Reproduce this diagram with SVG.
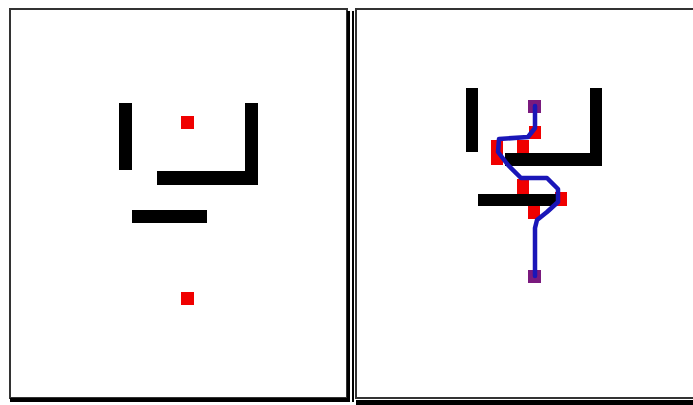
<svg xmlns="http://www.w3.org/2000/svg" width="693" height="405" viewBox="0 0 693 405">
<style>
.frame{fill:#fff;stroke:#333;stroke-width:2}
.shadow{fill:#000}
.wall{fill:#000}
.cell{fill:#f00000}
.end{fill:#7a1a7e}
.path{fill:none;stroke:#1a16b8;stroke-width:4.5;stroke-linejoin:round;stroke-linecap:round}
</style>
<rect width="693" height="405" fill="#fff"/>
<g id="panel-left">
  <rect class="frame" x="10" y="9" width="337" height="389"/>
  <rect class="shadow" x="347" y="11" width="3" height="391"/>
  <rect class="shadow" x="10" y="398" width="340" height="4"/>
  <rect class="wall" x="119" y="103" width="13" height="67"/>
  <rect class="wall" x="245" y="103" width="13" height="82"/>
  <rect class="wall" x="157" y="171" width="101" height="14"/>
  <rect class="wall" x="132" y="210" width="75" height="13"/>
  <rect class="cell" x="181" y="116" width="13" height="13"/>
  <rect class="cell" x="181" y="292" width="13" height="13"/>
</g>
<g id="panel-right">
  <rect class="frame" x="356" y="9" width="340" height="389"/>
  <rect class="shadow" x="352" y="11" width="2" height="391"/>
  <rect class="shadow" x="356" y="400" width="340" height="5"/>
  <rect class="cell" x="529" y="126" width="12" height="13"/>
  <rect class="cell" x="491" y="140" width="12" height="25"/>
  <rect class="cell" x="517" y="140" width="12" height="13"/>
  <rect class="cell" x="517" y="179" width="12" height="24"/>
  <rect class="cell" x="555" y="192" width="12" height="14"/>
  <rect class="cell" x="528" y="204" width="12" height="15"/>
  <rect class="wall" x="466" y="88" width="12" height="64"/>
  <rect class="wall" x="590" y="88" width="12" height="78"/>
  <rect class="wall" x="505" y="153" width="97" height="13"/>
  <rect class="wall" x="478" y="194" width="78" height="12"/>
  <rect class="end" x="528" y="100" width="13" height="13"/>
  <rect class="end" x="528" y="270" width="13" height="13"/>
</g>
<g id="connectors">
  <polyline class="path" points="535,106 535,128 528,137 499,139 498,152 508,165 521,178 547,178 558,189 558,202 547,212 537,220 535,228 535,276"/>
</g>
</svg>
